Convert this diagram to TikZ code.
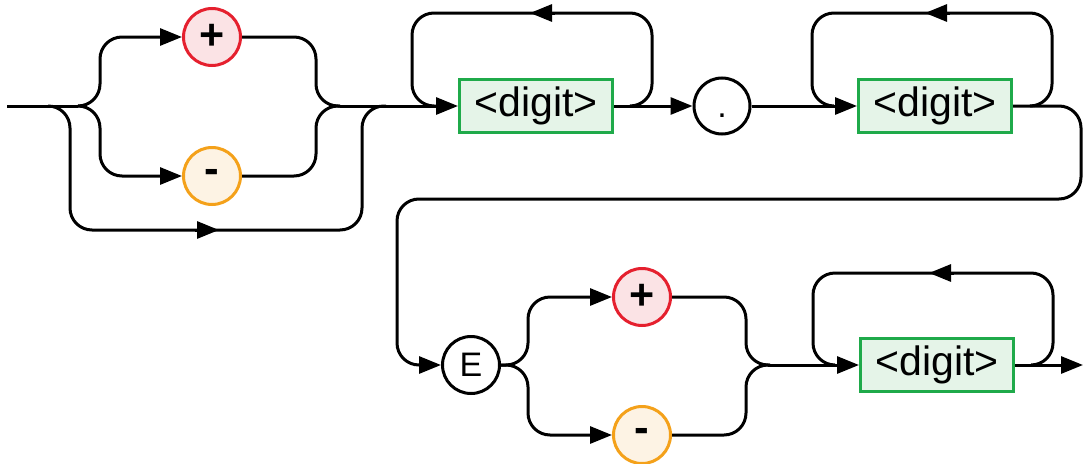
\documentclass[tikz,border=0pt]{standalone}
\usepackage{fontspec}
\setmainfont{Liberation Sans}
\usetikzlibrary{arrows.meta}
\definecolor{plusred}{HTML}{E5202E}
\definecolor{plusfill}{HTML}{FBE3E5}
\definecolor{minusor}{HTML}{F4A11A}
\definecolor{minusfill}{HTML}{FDF3E4}
\definecolor{boxgreen}{HTML}{1FAA4A}
\definecolor{boxfill}{HTML}{E5F4E8}
\begin{document}
\begin{tikzpicture}[x=1pt,y=-1pt,
  line width=3pt,
  rr/.style={rounded corners=22pt},
  arr/.style={-{Triangle[length=22pt,width=17pt]}},
  term/.style={circle, draw, line width=3pt, minimum size=57pt, inner sep=0pt,
    font=\fontsize{34}{36}\selectfont},
  plusnode/.style={term, draw=plusred, fill=plusfill, font=\fontsize{43}{45}\selectfont\bfseries},
  minusnode/.style={term, draw=minusor, fill=minusfill, font=\fontsize{44}{46}\selectfont\bfseries},
  nonterm/.style={rectangle, draw=boxgreen, fill=boxfill, line width=3pt,
    minimum width=153pt, minimum height=53pt, inner sep=0pt,
    font=\fontsize{41}{43}\selectfont},
]
\useasboundingbox (0,0) rectangle (1083,463);

% nodes
\node[plusnode]  (plusA)  at (212,37)  {+};
\node[minusnode] (minusA) at (212,176) {-};
\node[nonterm]   (d1)     at (536,106) {<digit>};
\node[term, minimum size=56pt] (dot) at (722,106) {\vphantom{E}.};
\node[nonterm]   (d2)     at (935,106) {<digit>};
\node[term]      (E)      at (471,365) {E};
\node[plusnode]  (plusB)  at (642,297) {+};
\node[minusnode] (minusB) at (642,435) {-};
\node[nonterm]   (d3)     at (937,365) {<digit>};

% free ends
\coordinate (start) at (7,106);
\coordinate (splitA) at (78,106);
\coordinate (splitBy) at (48,106);
\coordinate (mergeA) at (340,106);
\coordinate (bya) at (195,230);
\coordinate (bym) at (219,230);
\coordinate (l1a) at (555,13);
\coordinate (l1m) at (530,13);
\coordinate (l2a) at (950,13);
\coordinate (l2m) at (925,13);
\coordinate (l3a) at (954,273);
\coordinate (l3m) at (929,273);
\coordinate (mergeB) at (768,365);
\coordinate (finish) at (1083,365);

% first row
\draw (start) -- (splitA);
\draw[arr] (mergeA) -- (d1.west);
\draw[rr,arr] (splitA) -- (100,106) -- (100,37) -- (plusA.west);
\draw[rr,arr] (splitA) -- (100,106) -- (100,176) -- (minusA.west);
\draw[rr] (plusA.east) -- (316,37) -- (316,106) -- (mergeA);
\draw[rr] (minusA.east) -- (316,176) -- (316,106) -- (mergeA);
\draw[rr] (splitBy) -- (70,106) -- (70,230) -- (362,230) -- (362,106) -- (386,106);
\draw[arr] (bya) -- (bym);

% loop 1
\draw[rr] (630,106) -- (652,106) -- (652,13) -- (412,13) -- (412,106) -- (436,106);
\draw[arr] (l1a) -- (l1m);
\draw[arr] (d1.east) -- (dot.west);
\draw[arr] (dot.east) -- (d2.west);

% loop 2
\draw[rr] (1030,106) -- (1052,106) -- (1052,13) -- (812,13) -- (812,106) -- (834,106);
\draw[arr] (l2a) -- (l2m);

% wrap to second row
\draw[rr,arr] (d2.east) -- (1081,106) -- (1081,199) -- (397,199) -- (397,365) -- (E.west);

% second row
\draw[rr,arr] (E.east) -- (528,365) -- (528,297) -- (plusB.west);
\draw[rr,arr] (E.east) -- (528,365) -- (528,435) -- (minusB.west);
\draw[rr] (plusB.east) -- (746,297) -- (746,365) -- (770,365);
\draw[rr] (minusB.east) -- (746,435) -- (746,365) -- (770,365);
\draw[arr] (mergeB) -- (d3.west);

% loop 3
\draw[rr] (1031,365) -- (1053,365) -- (1053,273) -- (813,273) -- (813,365) -- (835,365);
\draw[arr] (l3a) -- (l3m);
\draw[arr] (d3.east) -- (finish);
\end{tikzpicture}
\end{document}
